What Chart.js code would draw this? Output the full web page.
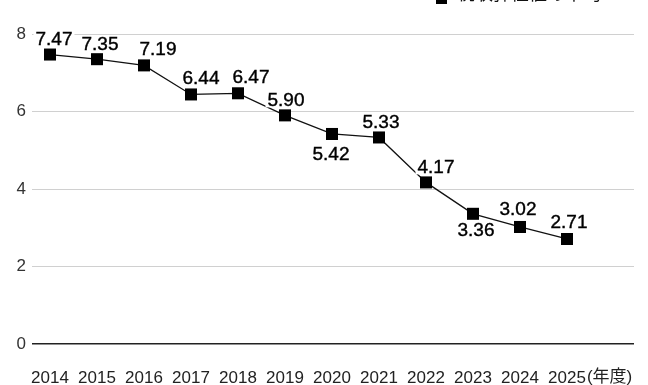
<!DOCTYPE html>
<html>
<head>
<meta charset="utf-8">
<script src="https://cdn.jsdelivr.net/npm/chart.js@4.4.1/dist/chart.umd.min.js"></script>
<style>
  html, body { margin: 0; padding: 0; background: #fff; }
  #wrap { position: relative; width: 648px; height: 385px; }
</style>
</head>
<body>
<div id="wrap"><canvas id="c" width="648" height="385"></canvas></div>
<script>
// Fiscal years and the yearly values
const years = ['2014', '2015', '2016', '2017', '2018', '2019', '2020', '2021', '2022', '2023', '2024', '2025'];
const values = [7.47, 7.35, 7.19, 6.44, 6.47, 5.90, 5.42, 5.33, 4.17, 3.36, 3.02, 2.71];
const yTicks = [0, 2, 4, 6, 8];
const seriesName = '税収弾性値の平均';
const yearUnit = '(年度)';

// Where each value label sits relative to its marker (dx, dy of the text centre)
const labelOffsets = [
  [4, -16], [3, -15], [14, -17], [10, -17], [13, -17], [1, -16],
  [-1, 20], [2, -16], [10, -16], [3, 16], [-2, -18], [2, -17]
];

const FONT = '"Liberation Sans", "Noto Sans CJK JP", sans-serif';

const valueLabels = {
  id: 'valueLabels',
  afterDatasetsDraw(chart) {
    const ctx = chart.ctx;
    const meta = chart.getDatasetMeta(0);
    ctx.save();
    ctx.font = '19px ' + FONT;
    ctx.textAlign = 'center';
    ctx.textBaseline = 'middle';
    meta.data.forEach((pt, i) => {
      const txt = values[i].toFixed(2);
      const x = pt.x + labelOffsets[i][0];
      const y = pt.y + labelOffsets[i][1];
      const w = ctx.measureText(txt).width;
      ctx.fillStyle = '#ffffff';
      ctx.fillRect(x - w / 2 - 2, y - 8, w + 4, 16);
      ctx.fillStyle = '#000000';
      ctx.strokeStyle = '#000000';
      ctx.lineWidth = 0.4;
      ctx.fillText(txt, x, y + 1);
      ctx.strokeText(txt, x, y + 1);
    });
    ctx.restore();
  }
};

const extras = {
  id: 'extras',
  afterDraw(chart) {
    const ctx = chart.ctx;
    const xs = chart.scales.x;
    ctx.save();
    // unit after the last year label
    ctx.font = '17px ' + FONT;
    ctx.fillStyle = '#222222';
    ctx.textBaseline = 'middle';
    ctx.textAlign = 'left';
    const lastX = xs.getPixelForValue(years.length - 1);
    const w = ctx.measureText(years[years.length - 1]).width;
    ctx.fillText(yearUnit, lastX + w / 2 + 1, 377);
    // series key, top right
    ctx.fillStyle = '#000000';
    ctx.fillRect(436, -8, 11, 12);
    ctx.font = '18px ' + FONT;
    ctx.fillStyle = '#111111';
    ctx.textBaseline = 'alphabetic';
    ctx.fillText(seriesName, 457, 0);
    ctx.restore();
  }
};

new Chart(document.getElementById('c'), {
  type: 'line',
  data: {
    datasets: [{
      label: seriesName,
      data: values.map((v, i) => ({ x: i, y: v })),
      borderColor: '#111111',
      borderWidth: 1.3,
      backgroundColor: '#000000',
      pointStyle: 'rect',
      pointRadius: 8.5,
      pointHoverRadius: 8.5,
      pointBackgroundColor: '#000000',
      pointBorderWidth: 0,
      tension: 0
    }]
  },
  options: {
    responsive: false,
    animation: false,
    events: [],
    layout: { padding: { top: 34, right: 14, left: 0, bottom: 0 } },
    plugins: { legend: { display: false }, tooltip: { enabled: false } },
    scales: {
      x: {
        type: 'linear',
        min: -0.383,
        max: 12.426,
        afterBuildTicks(scale) { scale.ticks = years.map((_, i) => ({ value: i })); },
        afterFit(scale) { scale.height = 41; },
        grid: { display: false, drawTicks: false },
        border: { display: false },
        ticks: {
          autoSkip: false,
          maxRotation: 0,
          padding: 24,
          color: '#222222',
          font: { size: 17, family: FONT },
          callback: (v) => years[v]
        }
      },
      y: {
        min: 0,
        max: 8,
        afterBuildTicks(scale) { scale.ticks = yTicks.map(v => ({ value: v })); },
        afterFit(scale) { scale.width = 32; },
        grid: {
          drawTicks: false,
          color: (c) => c.tick && c.tick.value === 0 ? '#222222' : '#d0d0d0',
          lineWidth: (c) => c.tick && c.tick.value === 0 ? 1.5 : 1
        },
        border: { display: false },
        ticks: {
          padding: 6,
          color: '#333333',
          font: { size: 17, family: FONT }
        }
      }
    }
  },
  plugins: [valueLabels, extras]
});
</script>
</body>
</html>
